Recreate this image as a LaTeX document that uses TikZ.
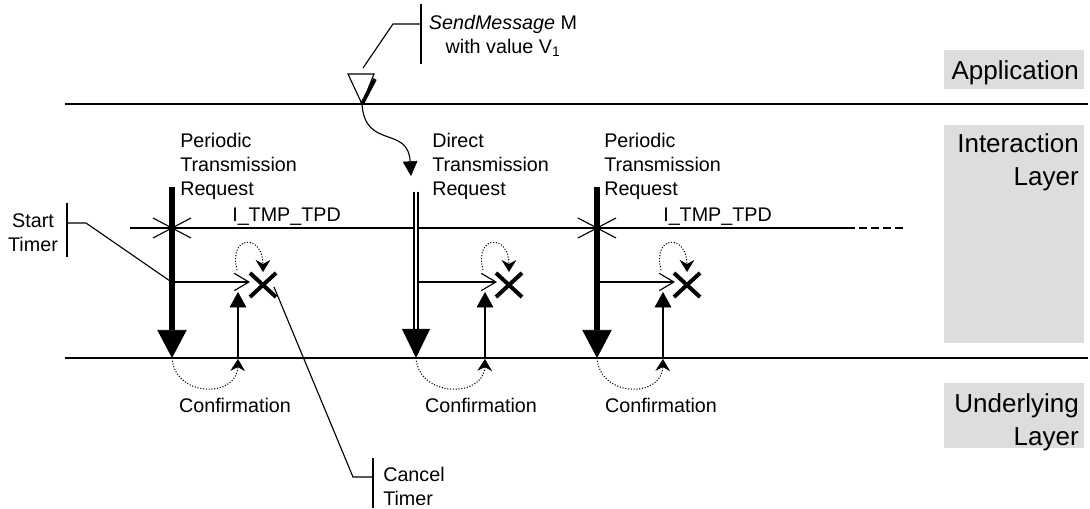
\documentclass[tikz,border=0pt]{standalone}
\usepackage{fontspec}
\setmainfont{Liberation Sans}
\usetikzlibrary{arrows.meta}
\definecolor{layerGray}{RGB}{221, 221, 221}

\begin{document}
\begin{tikzpicture}[x=0.75pt, y=-0.75pt,
    txt/.style={inner sep=0pt, font=\fontsize{14.8}{18}\selectfont},
    layertxt/.style={inner sep=0pt, font=\fontsize{19.5}{24.75}\selectfont, align=right, anchor=north east},
    boundary/.style={line width=1.2pt},
    thin line/.style={line width=0.85pt},
    periodic/.style={line width=5.2pt, -{Triangle[length=21pt, width=22pt, line width=0.4pt]}},
    direct/.style={double, line width=1pt, double distance=2pt},
    trigger/.style={line width=0.85pt, -{Straight Barb[length=11pt, width=13pt]}},
    confirm/.style={line width=0.85pt, -{Triangle[length=11.5pt, width=12.5pt, line width=0.4pt]}},
    loopback/.style={line width=0.8pt, dash pattern=on 0.8pt off 1.3pt, -{Stealth[length=9pt, width=11pt, inset=3pt, line width=0.4pt]}},
    cancelmark/.style={line width=3pt}]
  \useasboundingbox (0,0) rectangle (1090,509);

  % layer labels
  \fill[layerGray] (944,50) rectangle (1084,89);
  \fill[layerGray] (944,125) rectangle (1084,343);
  \fill[layerGray] (944,383) rectangle (1084,448);
  \node[layertxt] (app) at (1079,60) {Application};
  \node[layertxt] (ilayer) at (1079,133) {Interaction\\Layer};
  \node[layertxt] (ulayer) at (1079,393) {Underlying\\Layer};

  % layer boundaries
  \draw[boundary] (65,104) -- (1088,104);
  \draw[boundary] (65,358) -- (1088,358);

  % SendMessage from the application
  \coordinate (sendtop) at (362,104);
  \draw[thin line] (348,74) -- (374,74) -- (sendtop) -- cycle;
  \draw[line width=2.8pt] (375,79) -- (sendtop);
  \draw[thin line] (363,68) -- (393,24) -- (421,24);
  \draw[thin line] (421,4) -- (421,64);
  \node[txt, align=center, anchor=north] (sendtxt) at (503,15) {{\itshape SendMessage} M\\with value V\textsubscript{1}};
  \draw[thin line, -{Triangle[length=11pt, width=11pt, line width=0.4pt]}] (sendtop) .. controls (365,150) and (408,125) .. (411,176);

  % timer line
  \draw[thin line] (130,228) -- (847,228);
  \draw[thin line, dash pattern=on 6pt off 3pt] (847,228) -- (903,228);
  \node[txt, anchor=base west] (tmp1) at (232,222) {I\_TMP\_TPD};
  \node[txt, anchor=base west] (tmp3) at (663,222) {I\_TMP\_TPD};

  % column 1: periodic
  \coordinate (p1top) at (172,187);
  \coordinate (p1tip) at (172,358);
  \coordinate (p1star) at (172,228);
  \coordinate (x1) at (263,285);
  \node[txt, align=left, anchor=north west] (p1txt) at (180,133) {Periodic\\Transmission\\Request};
  \draw[periodic] (p1top) -- (p1tip);
  \draw[thin line] (p1star) ++(-19,-10) -- ++(38,20) (p1star) ++(-19,10) -- ++(38,-20);
  \draw[trigger] (174,282) -- (250,282);
  \draw[cancelmark] (x1) ++(-13,-12) -- ++(26,24) (x1) ++(-13,12) -- ++(26,-24);
  \draw[confirm] (238,358) -- (238,292);
  \draw[loopback] (237,270) .. controls (228,234) and (263,234) .. (263,272);
  \draw[loopback] (p1tip) .. controls (175,398) and (237,398) .. (238,359);
  \node[txt, anchor=base] (conf1) at (235,413) {Confirmation};

  % column 2: direct
  \coordinate (d2top) at (416,192);
  \coordinate (d2tip) at (416,358);
  \coordinate (x2) at (509,285);
  \node[txt, align=left, anchor=north west] (d2txt) at (432,133) {Direct\\Transmission\\Request};
  \draw[direct] (d2top) -- (416,331);
  \fill (d2tip) -- ++(-14,-29) -- ++(28,0) -- cycle;
  \draw[trigger] (419,282) -- (497,282);
  \draw[cancelmark] (x2) ++(-13,-12) -- ++(26,24) (x2) ++(-13,12) -- ++(26,-24);
  \draw[confirm] (485,358) -- (485,292);
  \draw[loopback] (483,270) .. controls (474,234) and (509,234) .. (509,272);
  \draw[loopback] (d2tip) .. controls (419,398) and (484,398) .. (485,359);
  \node[txt, anchor=base] (conf2) at (481,413) {Confirmation};

  % column 3: periodic
  \coordinate (p3top) at (597,187);
  \coordinate (p3tip) at (597,358);
  \coordinate (p3star) at (597,228);
  \coordinate (x3) at (687,285);
  \node[txt, align=left, anchor=north west] (p3txt) at (604,133) {Periodic\\Transmission\\Request};
  \draw[periodic] (p3top) -- (p3tip);
  \draw[thin line] (p3star) ++(-19,-10) -- ++(38,20) (p3star) ++(-19,10) -- ++(38,-20);
  \draw[trigger] (599,282) -- (675,282);
  \draw[cancelmark] (x3) ++(-13,-12) -- ++(26,24) (x3) ++(-13,12) -- ++(26,-24);
  \draw[confirm] (663,358) -- (663,292);
  \draw[loopback] (661,270) .. controls (652,234) and (687,234) .. (687,272);
  \draw[loopback] (p3tip) .. controls (600,398) and (662,398) .. (663,359);
  \node[txt, anchor=base] (conf3) at (661,413) {Confirmation};

  % Start Timer
  \node[txt, align=center, anchor=north] (starttxt) at (33,213) {Start\\Timer};
  \draw[thin line] (67,203) -- (67,257);
  \draw[thin line] (67,223) -- (86,223) -- (170,281);

  % Cancel Timer
  \node[txt, align=left, anchor=north west] (canceltxt) at (383,467) {Cancel\\Timer};
  \draw[thin line] (373,458) -- (373,508);
  \draw[thin line] (274,287) -- (353,477) -- (373,477);
\end{tikzpicture}
\end{document}
